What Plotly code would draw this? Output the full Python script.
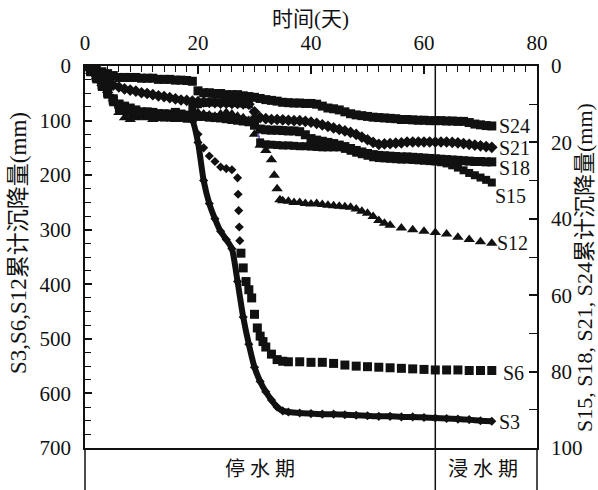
import plotly.graph_objects as go

# ---------------- data ----------------
s3_days = [0,1,2,3,4,5,6,7,8,9,10,11,12,13,14,15,16,17,18,19,20,21,22,23,24,25,26,27,28,29,30,31,32,33,34,35,36,38,40,42,44,46,48,50,52,54,56,58,60,62,64,66,68,70,72]
s3_vals = [0,10,22,35,48,62,75,82,86,88,89,90,90,91,92,92,93,94,95,100,140,210,252,280,303,318,335,395,460,510,552,578,597,612,625,632,634,636,637,638,638,639,640,641,642,642,643,643,644,645,646,647,648,650,651]

s6_days = [0,1,2,3,4,5,6,7,8,9,10,11,12,13,14,15,16,17,18,19,20,21,22,23,24,25,26,27,27.1,27.2,27.3,27.4,27.6,28,28.5,29,29.5,30,30.5,31,31.5,32,33,34,35,36,38,40,42,44,46,48,50,52,54,56,58,60,62,64,66,68,70,72]
s6_vals = [0,8,18,30,45,60,70,80,85,88,90,88,85,88,90,88,85,88,90,95,125,150,165,175,185,188,190,205,235,265,295,320,343,370,395,410,425,455,480,495,505,515,528,538,541,542,542,543,543,545,548,550,551,552,553,554,555,556,557,557,557,558,558,558]

s12_days = [0,1,2,3,4,5,6,7,8,9,10,11,12,13,14,15,16,17,18,19,20,21,22,23,24,25,26,27,28,29,30,31,32,33,33.5,34,34.5,35,36,37,38,39,40,41,42,43,44,45,46,47,48,49,50,51,52,53,54,56,58,60,62,64,66,68,70,72]
s12_vals = [0,10,20,32,45,60,85,95,98,95,92,95,98,95,92,95,98,95,92,88,85,88,90,92,88,85,88,92,95,100,125,145,155,172,200,225,245,247,248,250,250,252,253,252,254,255,256,257,258,259,262,266,270,276,283,288,292,297,300,303,305,308,314,318,322,325]

r_days = [0,1,2,3,4,5,6,7,8,9,10,11,12,13,14,15,16,17,18,19,20,21,22,23,24,25,26,27,28,29,30,31,32,33,34,35,36,37,38,39,40,41,42,43,44,45,46,47,48,49,50,51,52,53,54,55,56,57,58,59,60,61,62,63,64,65,66,67,68,69,70,71,72]

s24_vals = [0,0.5,1,1.5,2,2.5,3,3,3,3,3.2,3.2,3.2,3.5,3.5,3.5,3.7,3.7,3.8,4,6.5,7,7,7.2,7.2,7.5,7.5,7.5,7.8,8,8.2,8.5,8.8,9,9.2,9.5,9.6,9.7,9.7,9.8,9.8,10,10.5,11,11.2,11.5,12,12.5,12.8,13,13.2,13.4,13.5,13.6,13.7,13.8,14,14,14.1,14.2,14.2,14.3,14.3,14.3,14.4,14.4,14.5,14.5,14.8,15.2,15.4,15.6,15.7]

s21_vals = [0,1,2,3,4,5,5.5,6,6.3,6.6,7,7.2,7.5,7.8,8,8.3,8.6,8.9,9,9.2,9.3,9.4,9.5,9.6,9.7,9.7,9.8,9.8,9.9,10,12,13.5,13.8,14,14,14.1,14.2,14.3,14.3,14.5,14.7,15,15.4,15.8,16.2,16.6,17,17.4,17.9,18.6,19.3,20,20.5,20.4,20.3,20.2,20.1,19.9,19.9,19.9,19.9,19.9,19.9,19.9,19.9,20,20.1,20.3,20.5,20.7,20.9,21.1,21.3]

s18_vals = [0,1.5,3,5,7,9,10,10.5,11,11.5,12,12,12.5,12.5,12.5,13,13,13,13,13,13.2,13.2,13.4,13.5,13.6,13.8,14,14.2,14.4,14.6,15.5,16.5,16.7,16.8,16.8,16.9,17,17,17.2,18,19,19.4,19.7,20,20.3,20.7,21.1,21.6,22.1,22.5,22.9,23.2,23.4,23.5,23.6,23.7,23.8,23.8,23.9,24,24.1,24.2,24.3,24.4,24.5,24.6,24.7,24.8,24.9,25,25,25.1,25.1]

s15_vals = [0,1.5,3.5,5.5,7.5,9.5,11,11.5,12,12.5,13,13,13.2,13.4,13.5,13.5,13.6,13.6,13.8,11,10,9.7,9.5,9.5,9.5,9.5,9.6,9.7,9.8,10,14,20,20.5,20.6,20.7,20.8,20.8,20.9,21,21,21.1,21.2,21.3,21.3,21.3,21.3,21.7,22.2,22.7,23.1,23.5,23.9,24.1,24.2,24.3,24.4,24.5,24.5,24.6,24.7,24.8,24.9,25,25.2,25.5,26,26.6,27.3,28,28.6,29.2,29.8,30.5]

labels = ["S24", "S21", "S18", "S15", "S12", "S6", "S3"]
x_ticks = [0, 20, 40, 60, 80]
left_ticks = [0, 100, 200, 300, 400, 500, 600, 700]
right_ticks = [0, 20, 40, 60, 80, 100]
water_day = 62
period_labels = ["停 水 期", "浸 水 期"]

# ---------------- figure ----------------
FONT = "Liberation Serif, Noto Sans CJK SC, serif"
BLACK = "#111111"
PH = 382.0  # plot-area height in px
PW = 452.0  # plot-area width in px

def mk(symbol, size):
    return dict(symbol=symbol, size=size, color=BLACK, opacity=1, line=dict(width=0, color=BLACK))

fig = go.Figure()

# right axis series
fig.add_trace(go.Scatter(x=r_days, y=s15_vals, yaxis="y2", mode="lines+markers",
                         line=dict(color="#7463c4", width=1.8),
                         marker=mk("square", 8), name="S15"))
fig.add_trace(go.Scatter(x=r_days, y=s18_vals, yaxis="y2", mode="markers",
                         marker=mk("square", 9), name="S18"))
fig.add_trace(go.Scatter(x=r_days, y=s21_vals, yaxis="y2", mode="markers",
                         marker=mk("diamond", 9), name="S21"))
fig.add_trace(go.Scatter(x=r_days, y=s24_vals, yaxis="y2", mode="markers",
                         marker=mk("square", 9), name="S24"))

# left axis series
fig.add_trace(go.Scatter(x=s12_days, y=s12_vals, mode="markers",
                         marker=mk("triangle-up", 10), name="S12"))
s6_symbols = ["diamond" if 19.5 <= d <= 27.5 else "square" for d in s6_days]
s6_sizes = [7 if 19.5 <= d <= 27.5 else 9 for d in s6_days]
s6_marker = mk("square", 9)
s6_marker.update(symbol=s6_symbols, size=s6_sizes)
fig.add_trace(go.Scatter(x=s6_days, y=s6_vals, mode="markers",
                         marker=s6_marker, name="S6"))
fig.add_trace(go.Scatter(x=s3_days, y=s3_vals, mode="lines+markers",
                         line=dict(color=BLACK, width=6, shape="spline", smoothing=0.6),
                         marker=mk("diamond", 7), name="S3"))

fig.update_layout(
    width=598, height=490,
    margin=dict(l=85, r=61, t=66, b=42, autoexpand=False),
    paper_bgcolor="white", plot_bgcolor="white",
    showlegend=False,
    font=dict(family=FONT, size=21, color=BLACK),
    xaxis=dict(range=[0, 80], side="top", tickvals=x_ticks, ticks="inside",
               ticklen=8, tickwidth=1.5, tickcolor=BLACK, ticklabelstandoff=6,
               minor=dict(dtick=2, ticks="inside", ticklen=6, tickwidth=1.2, tickcolor=BLACK),
               showline=True, linecolor=BLACK, linewidth=1.5, mirror=True,
               showgrid=False, zeroline=False, automargin=False, tickfont=dict(size=21)),
    yaxis=dict(range=[700, 0], tickvals=left_ticks, ticks="inside",
               ticklen=7, tickwidth=1.5, tickcolor=BLACK, ticklabelstandoff=8,
               minor=dict(dtick=25, ticks="inside", ticklen=6, tickwidth=1.2, tickcolor=BLACK),
               showline=True, linecolor=BLACK, linewidth=1.5,
               showgrid=False, zeroline=False, automargin=False, tickfont=dict(size=21)),
    yaxis2=dict(range=[100, 0], overlaying="y", side="right", tickvals=right_ticks,
                ticks="inside", ticklen=8, tickwidth=1.5, tickcolor=BLACK, ticklabelstandoff=8,
                minor=dict(dtick=10, ticks="inside", ticklen=8, tickwidth=1.2, tickcolor=BLACK),
                showline=True, linecolor=BLACK, linewidth=1.5,
                showgrid=False, zeroline=False, automargin=False, tickfont=dict(size=21)),
)

strip = -42 / PH
line_style = dict(color=BLACK, width=1.5)
fig.add_shape(type="line", xref="paper", yref="paper", x0=0, x1=0, y0=strip, y1=0, line=line_style)
fig.add_shape(type="line", xref="paper", yref="paper", x0=1, x1=1, y0=strip, y1=0, line=line_style)
fig.add_shape(type="line", xref="x", yref="paper", x0=water_day, x1=water_day, y0=strip, y1=1, line=line_style)

# series labels
label_pos = {"S24": (73, 110), "S21": (73, 150), "S18": (73, 187), "S15": (72.2, 238),
             "S12": (72.6, 324), "S6": (73.6, 562), "S3": (73, 652)}
for lab in labels:
    lx, ly = label_pos[lab]
    fig.add_annotation(x=lx, y=ly, xref="x", yref="y", text=lab, showarrow=False,
                       xanchor="left", yanchor="middle", font=dict(size=20))

# period labels (page px y ~ 469)
fig.add_annotation(x=(0 + water_day) / 2, y=-21 / PH, xref="x", yref="paper",
                   text=period_labels[0], showarrow=False, yanchor="middle", font=dict(size=20))
fig.add_annotation(x=(water_day + 80) / 2 - 0.5, y=-21 / PH, xref="x", yref="paper",
                   text=period_labels[1], showarrow=False, yanchor="middle", font=dict(size=20))

# axis titles (positions given in page pixels, plot area spans x 85..537, y 66..448)
fig.add_annotation(x=(310 - 85) / PW, y=1 + (66 - 19) / PH, xref="paper", yref="paper",
                   xanchor="center", yanchor="middle",
                   text="时间(天)", showarrow=False, font=dict(size=21))
fig.add_annotation(x=(18 - 85) / PW, y=(448 - 243) / PH, xref="paper", yref="paper",
                   xanchor="center", yanchor="middle",
                   text="S3,S6,S12累计沉降量(mm)", textangle=-90, showarrow=False,
                   font=dict(size=23))
fig.add_annotation(x=(584 - 85) / PW, y=(448 - 268) / PH, xref="paper", yref="paper",
                   xanchor="center", yanchor="middle",
                   text="S15, S18, S21, S24累计沉降量(mm)", textangle=-90, showarrow=False,
                   font=dict(size=22))

fig.write_html("out.html", config={"displayModeBar": False},
               post_script="document.body.style.margin='0';document.body.style.overflow='hidden';")
